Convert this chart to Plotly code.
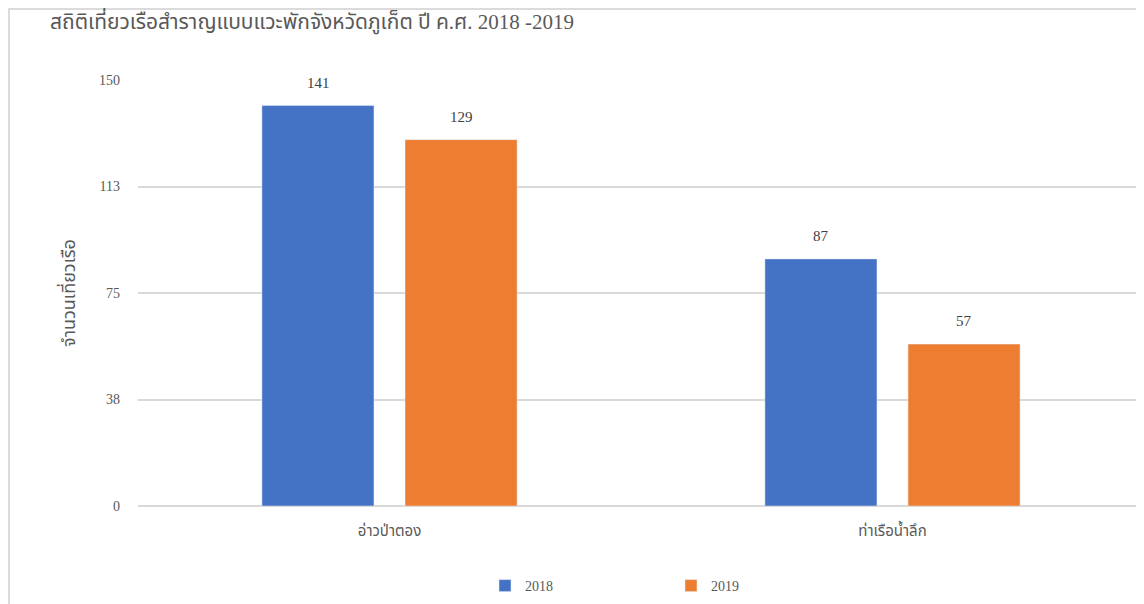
import plotly.graph_objects as go

title_text = "สถิติเที่ยวเรือสำราญแบบแวะพักจังหวัดภูเก็ต ปี ค.ศ. 2018 -2019"
y_title = "จำนวนเที่ยวเรือ"
categories = ["อ่าวป่าตอง", "ท่าเรือน้ำลึก"]
series_names = ["2018", "2019"]
values_2018 = [141, 87]
values_2019 = [129, 57]
tick_vals = [0, 37.5, 75, 112.5, 150]
tick_text = ["0", "38", "75", "113", "150"]
colors = ["#4472C4", "#ED7D31"]

FONT = "Liberation Serif, Noto Sans Thai, serif"

fig = go.Figure()
annotations = []
for i, (name, vals, col) in enumerate(zip(series_names, [values_2018, values_2019], colors)):
    fig.add_trace(go.Bar(
        x=categories, y=vals, name=name, marker_color=col,
        cliponaxis=False,
    ))
    for c, v in zip(categories, vals):
        annotations.append(dict(
            x=c, y=v, xref="x", yref="y", text=str(v), showarrow=False,
            xshift=-71.5 if i == 0 else 71.5, yshift=23, yanchor="middle",
            font=dict(family=FONT, size=15, color="#404040"),
        ))

fig.update_layout(
    width=1144, height=604,
    paper_bgcolor="white", plot_bgcolor="white",
    margin=dict(l=130, r=8, t=72, b=106),
    barmode="group", bargap=0.431, bargroupgap=0.217,
    font=dict(family=FONT, color="#595959"),
    title=dict(text=title_text, x=42/1144, xanchor="left", y=1-14/604, yanchor="middle",
               font=dict(family=FONT, size=21, color="#595959")),
    showlegend=True,
    legend=dict(orientation="h", x=(485-138)/1006, xanchor="left",
                y=-80/426, yanchor="middle", font=dict(family=FONT, size=14, color="#595959"),
                entrywidth=141, entrywidthmode="pixels", itemwidth=30, tracegroupgap=0),
    xaxis=dict(showline=False, ticks="", ticklabelstandoff=14,
               tickfont=dict(family=FONT, size=15, color="#595959")),
    yaxis=dict(range=[0, 150], tickvals=tick_vals, ticktext=tick_text,
               showgrid=True, gridcolor="#D9D9D9", gridwidth=2, zeroline=True,
               zerolinecolor="#D9D9D9", zerolinewidth=2,
               tickfont=dict(family=FONT, size=14, color="#595959"), ticklabelstandoff=17,
               title=dict(text=y_title, font=dict(family=FONT, size=18, color="#595959"), standoff=18)),
    annotations=annotations,
    shapes=[dict(type="rect", xref="paper", yref="paper",
                 x0=(9-138)/1006, x1=1.2, y0=-0.5, y1=(506-9)/426,
                 line=dict(color="#D0D0D0", width=1.5), fillcolor="rgba(0,0,0,0)", layer="above")],
)

fig.write_html("out.html")
